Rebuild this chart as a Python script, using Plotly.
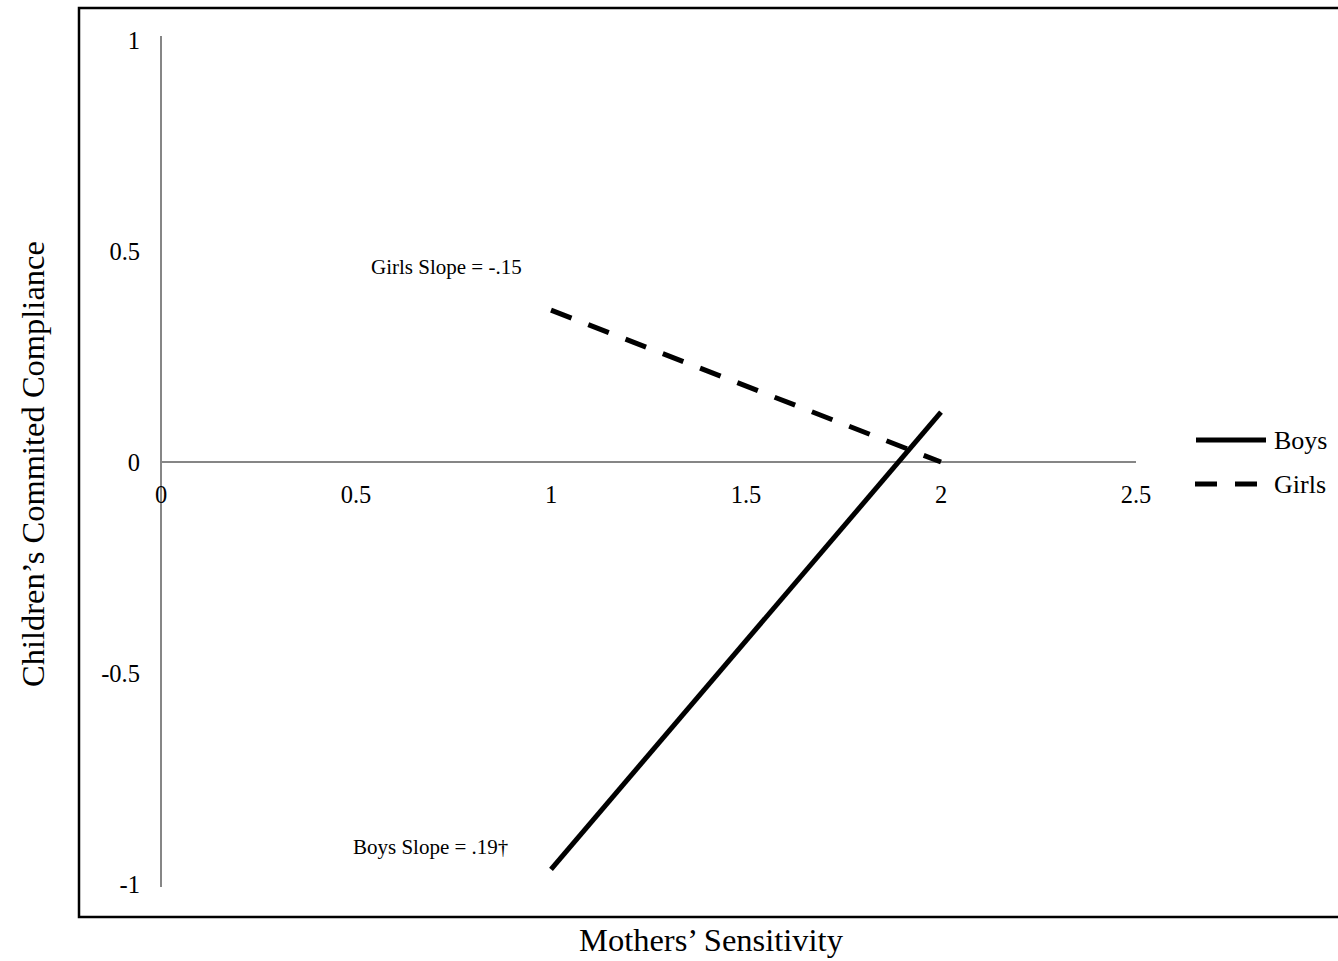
import plotly.graph_objects as go

# ---- data ----
x_vals = [1, 2]
boys = [-0.965, 0.118]
girls = [0.36, 0.0]
x_ticks = [0, 0.5, 1, 1.5, 2, 2.5]
x_tick_labels = ["0", "0.5", "1", "1.5", "2", "2.5"]
y_ticks = [-1, -0.5, 0, 0.5, 1]
y_tick_labels = ["-1", "-0.5", "0", "0.5", "1"]
series_names = ["Boys", "Girls"]
slope_labels = ["Boys Slope = .19\u2020", "Girls Slope = -.15"]

W, H = 1338, 961
L, R, T, B = 161, 1136, 36, 887
FONT = "Liberation Serif, Times New Roman, serif"
GRAY = "#868686"

yr = [-1.007, 1.0095]

def px2x(px):
    return (px - L) / (R - L)

def px2y(py):
    return (B - py) / (B - T)

fig = go.Figure()
fig.add_trace(go.Scatter(x=x_vals, y=boys, mode="lines", name=series_names[0],
                         line=dict(color="black", width=5), showlegend=False))
fig.add_trace(go.Scatter(x=x_vals, y=girls, mode="lines", name=series_names[1],
                         line=dict(color="black", width=5, dash="22px,18px"), showlegend=False))

xpos = (0 - yr[0]) / (yr[1] - yr[0])

fig.update_layout(
    width=W, height=H,
    margin=dict(l=L, r=W - R, t=T, b=H - B),
    paper_bgcolor="white", plot_bgcolor="white",
    font=dict(family=FONT, color="black"),
    xaxis=dict(range=[0, 2.5], tickvals=x_ticks, ticktext=x_tick_labels,
               showgrid=False, showline=False, zeroline=True, zerolinecolor=GRAY,
               zerolinewidth=1.5, anchor="free", position=xpos, ticks="",
               ticklabelstandoff=15, tickfont=dict(size=24.5, family=FONT, color="black")),
    yaxis=dict(range=yr, tickvals=y_ticks, ticktext=y_tick_labels,
               showgrid=False, showline=False, zeroline=True, zerolinecolor=GRAY,
               zerolinewidth=1.5, ticks="", ticklabelstandoff=20,
               tickfont=dict(size=24.5, family=FONT, color="black")),
)

annotations = [
    dict(x=0.692, y=-0.912, xref="x", yref="y", text=slope_labels[0], showarrow=False,
         font=dict(size=21, family=FONT, color="black")),
    dict(x=0.733, y=0.462, xref="x", yref="y", text=slope_labels[1], showarrow=False,
         font=dict(size=21, family=FONT, color="black")),
    dict(x=px2x(711), y=px2y(940), xref="paper", yref="paper", text="Mothers\u2019 Sensitivity",
         xanchor="center", yanchor="middle",
         showarrow=False, font=dict(size=32.5, family=FONT, color="black")),
    dict(x=px2x(33), y=px2y(464), xref="paper", yref="paper",
         text="Children\u2019s Commited Compliance", textangle=-90,
         xanchor="center", yanchor="middle",
         showarrow=False, font=dict(size=32.5, family=FONT, color="black")),
    dict(x=px2x(1272), y=px2y(440), xref="paper", yref="paper", text=series_names[0],
         xanchor="left", yanchor="middle", showarrow=False,
         font=dict(size=26, family=FONT, color="black")),
    dict(x=px2x(1272), y=px2y(484), xref="paper", yref="paper", text=series_names[1],
         xanchor="left", yanchor="middle", showarrow=False,
         font=dict(size=26, family=FONT, color="black")),
]
fig.update_layout(annotations=annotations)

shapes = [
    dict(type="rect", xref="paper", yref="paper", x0=px2x(79), x1=px2x(1350),
         y0=px2y(917), y1=px2y(8), line=dict(color="black", width=2.5)),
    dict(type="line", xref="paper", yref="paper", x0=px2x(1196), x1=px2x(1266),
         y0=px2y(440), y1=px2y(440), line=dict(color="black", width=5)),
    dict(type="line", xref="paper", yref="paper", x0=px2x(1195), x1=px2x(1257),
         y0=px2y(484), y1=px2y(484), line=dict(color="black", width=5, dash="22px,18px")),
]
fig.update_layout(shapes=shapes)

fig.write_html("out.html", config={"displayModeBar": False},
               post_script="document.body.style.margin='0';document.body.style.overflow='hidden';")
